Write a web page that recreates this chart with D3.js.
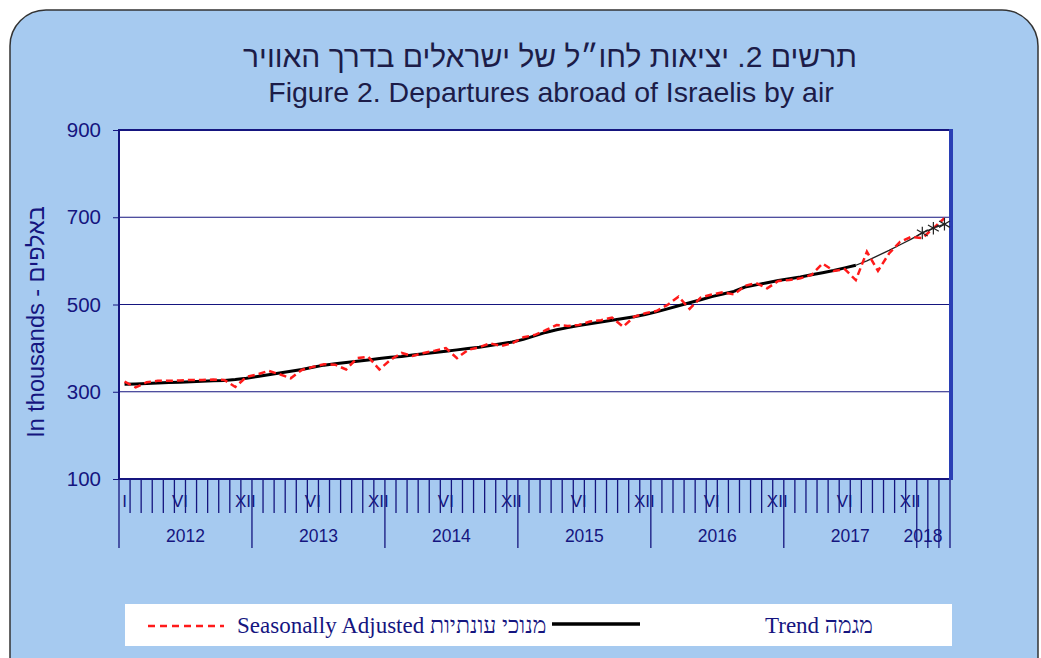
<!DOCTYPE html>
<html>
<head>
<meta charset="utf-8">
<script src="https://cdn.jsdelivr.net/npm/d3@7"></script>
<style>
  body { margin: 0; background: #fff; }
  svg { display: block; }
</style>
</head>
<body>
<div id="chart"></div>
<script>
// DATA (monthly, Jan 2012 - Mar 2018, thousands)

let years = [2012, 2013, 2014, 2015, 2016, 2017, 2018]
let monthsInYear = [12, 12, 12, 12, 12, 12, 3]
let monthLabels = {0: "I", 5: "VI", 11: "XII"}
let yTicks = [100, 300, 500, 700, 900]

let seasonallyAdjusted = [
    323, 310, 322, 325, 325, 326, 327, 327, 328, 327, 311, 334,
    340, 348, 340, 331, 350, 357, 363, 362, 351, 377, 380, 351,
    373, 389, 382, 389, 394, 400, 377, 396, 402, 411, 405, 411,
    425, 430, 441, 453, 451, 453, 461, 464, 470, 449, 472, 480,
    485, 499, 518, 490, 516, 523, 528, 523, 543, 549, 537, 554,
    556, 560, 568, 594, 577, 581, 556, 621, 577, 617, 644, 655,
    652, 675, 698
]

let trend = [
    317, 318, 319, 320, 321, 322, 323, 324, 325, 326, 328, 331,
    335, 339, 343, 347, 351, 356, 361, 364, 367, 370, 373, 376,
    379, 381, 384, 387, 390, 393, 396, 399, 402, 406, 410, 414,
    420, 428, 436, 442, 447, 452, 456, 460, 464, 468, 472, 477,
    483, 490, 497, 504, 511, 518, 524, 530, 540, 545, 550, 555,
    559, 563, 568, 573, 578, 584, 590, 600, 612, 624, 637, 650,
    664, 675, 684
]

// index where the trend turns into a thin provisional line, and starred points
let trendThinFrom = 66
let trendStarFrom = 72

// CHART AREA

let W = 1041, H = 658
let margin = {top: 130, right: 90, bottom: 179, left: 119}
let width = W - margin.left - margin.right - 1
let height = H - margin.top - margin.bottom

let navy = "#15157f"

let svg = d3.select("#chart").append("svg")
    .attr("width", W)
    .attr("height", H)

// panel
svg.append("rect")
    .attr("x", 10).attr("y", 10)
    .attr("width", 1028).attr("height", 720)
    .attr("rx", 36).attr("ry", 36)
    .attr("fill", "#a6caf0")
    .attr("stroke", "#333")
    .attr("stroke-width", 1.5)

// titles
svg.append("text")
    .attr("x", 550).attr("y", 67)
    .attr("text-anchor", "middle")
    .attr("font-family", "Liberation Sans, Arial, sans-serif")
    .attr("font-size", 30)
    .attr("fill", "#1c1c48")
    .text("תרשים 2. יציאות לחו״ל של ישראלים בדרך האוויר")

svg.append("text")
    .attr("x", 551).attr("y", 102)
    .attr("text-anchor", "middle")
    .attr("font-family", "Liberation Sans, Arial, sans-serif")
    .attr("font-size", 28.5)
    .attr("fill", "#1c1c48")
    .text("Figure 2. Departures abroad of Israelis by air")

let g = svg.append("g")
    .attr("transform", "translate(" + margin.left + "," + margin.top + ")")

let nMonths = d3.sum(monthsInYear)

let x = d3.scaleLinear().domain([0, nMonths]).range([0, width])
let y = d3.scaleLinear().domain([100, 900]).range([height, 0])

g.append("rect")
    .attr("width", width).attr("height", height)
    .attr("fill", "#fff")

// gridlines
g.selectAll(".grid").data(yTicks)
    .enter().append("line")
    .attr("x1", 0).attr("x2", width)
    .attr("y1", d => y(d)).attr("y2", d => y(d))
    .attr("stroke", navy).attr("stroke-width", 1.2)

// y axis
let yAxis = d3.axisLeft(y).tickValues(yTicks).tickSize(6).tickPadding(12)
let yG = g.append("g").call(yAxis)
yG.select(".domain").remove()
yG.selectAll("line").attr("stroke", navy)
yG.selectAll("text")
    .attr("font-family", "Liberation Sans, Arial, sans-serif")
    .attr("font-size", 20.5)
    .attr("fill", navy)

svg.append("text")
    .attr("transform", "translate(44," + 322 + ") rotate(-90)")
    .attr("text-anchor", "middle")
    .attr("font-family", "Liberation Sans, Arial, sans-serif")
    .attr("font-size", 23.5)
    .attr("fill", navy)
    .text("In thousands - באלפים")

// x axis: month ticks
let monthIdx = d3.range(nMonths + 1)
let yearStarts = [0]
monthsInYear.forEach((m, i) => yearStarts.push(yearStarts[i] + m))

let lastYearStart = yearStarts[years.length - 1]

g.selectAll(".mtick").data(monthIdx)
    .enter().append("line")
    .attr("x1", d => x(d)).attr("x2", d => x(d))
    .attr("y1", height)
    .attr("y2", d => (yearStarts.includes(d) || d >= lastYearStart) ? height + 69 : height + 34)
    .attr("stroke", navy).attr("stroke-width", 1.3)

// month roman labels
let mLabels = []
years.forEach((yr, yi) => {
    Object.keys(monthLabels).forEach(k => {
        k = +k
        if (k >= monthsInYear[yi]) return
        if (k == 0 && yi > 0) return
        mLabels.push({i: yearStarts[yi] + k, t: monthLabels[k]})
    })
})

g.selectAll(".mlab").data(mLabels)
    .enter().append("text")
    .attr("x", d => x(d.i + 0.5) - (d.t == "XII" ? 1 : 0))
    .attr("y", height + 28)
    .attr("text-anchor", "middle")
    .attr("font-family", "Liberation Sans, Arial, sans-serif")
    .attr("font-size", 17)
    .attr("fill", navy)
    .text(d => d.t)

g.selectAll(".ylab").data(years)
    .enter().append("text")
    .attr("x", (d, i) => Math.min(x(yearStarts[i] + monthsInYear[i] / 2), width - 27))
    .attr("y", height + 63)
    .attr("text-anchor", "middle")
    .attr("font-family", "Liberation Sans, Arial, sans-serif")
    .attr("font-size", 17.5)
    .attr("fill", navy)
    .text(d => d)

// plot frame
g.append("rect")
    .attr("width", width).attr("height", height)
    .attr("fill", "none")
    .attr("stroke", navy).attr("stroke-width", 2)
g.append("line")
    .attr("x1", width + 1).attr("x2", width + 1)
    .attr("y1", -1).attr("y2", height + 1)
    .attr("stroke", "#2a3fb5").attr("stroke-width", 4)

// lines
let line = d3.line()
    .x(d => x(d.i + 0.5))
    .y(d => y(d.v))

let saData = seasonallyAdjusted.map((v, i) => ({i: i, v: v}))
let trData = trend.map((v, i) => ({i: i, v: v}))

g.append("path")
    .datum(trData.filter(d => d.i <= trendThinFrom))
    .attr("d", line)
    .attr("fill", "none")
    .attr("stroke", "#000")
    .attr("stroke-width", 3)

g.append("path")
    .datum(trData.filter(d => d.i >= trendThinFrom))
    .attr("d", line)
    .attr("fill", "none")
    .attr("stroke", "#222")
    .attr("stroke-width", 1.3)

g.append("path")
    .datum(saData)
    .attr("d", line)
    .attr("fill", "none")
    .attr("stroke", "#ff1a1a")
    .attr("stroke-width", 2.5)
    .attr("stroke-dasharray", "7,4")

g.selectAll(".star").data(trData.filter(d => d.i >= trendStarFrom))
    .enter().append("path")
    .attr("transform", d => "translate(" + x(d.i + 0.5) + "," + y(d.v) + ")")
    .attr("d", d3.symbol().type(d3.symbolAsterisk).size(110))
    .attr("fill", "none")
    .attr("stroke", "#222")
    .attr("stroke-width", 1.2)

// legend
let leg = svg.append("g")
leg.append("rect")
    .attr("x", 125).attr("y", 604)
    .attr("width", 827).attr("height", 42)
    .attr("fill", "#fff")

leg.append("line")
    .attr("x1", 148).attr("x2", 224)
    .attr("y1", 626).attr("y2", 626)
    .attr("stroke", "#ff1a1a").attr("stroke-width", 2.5)
    .attr("stroke-dasharray", "7,5")

leg.append("text")
    .attr("x", 237).attr("y", 633)
    .attr("font-family", "Liberation Serif, Times New Roman, serif")
    .attr("font-size", 23)
    .attr("fill", navy)
    .text("Seasonally Adjusted מנוכי עונתיות")

leg.append("line")
    .attr("x1", 552).attr("x2", 640)
    .attr("y1", 624).attr("y2", 624)
    .attr("stroke", "#000").attr("stroke-width", 3.5)

leg.append("text")
    .attr("x", 765).attr("y", 633)
    .attr("font-family", "Liberation Serif, Times New Roman, serif")
    .attr("font-size", 23)
    .attr("fill", navy)
    .text("Trend מגמה")
</script>
</body>
</html>
